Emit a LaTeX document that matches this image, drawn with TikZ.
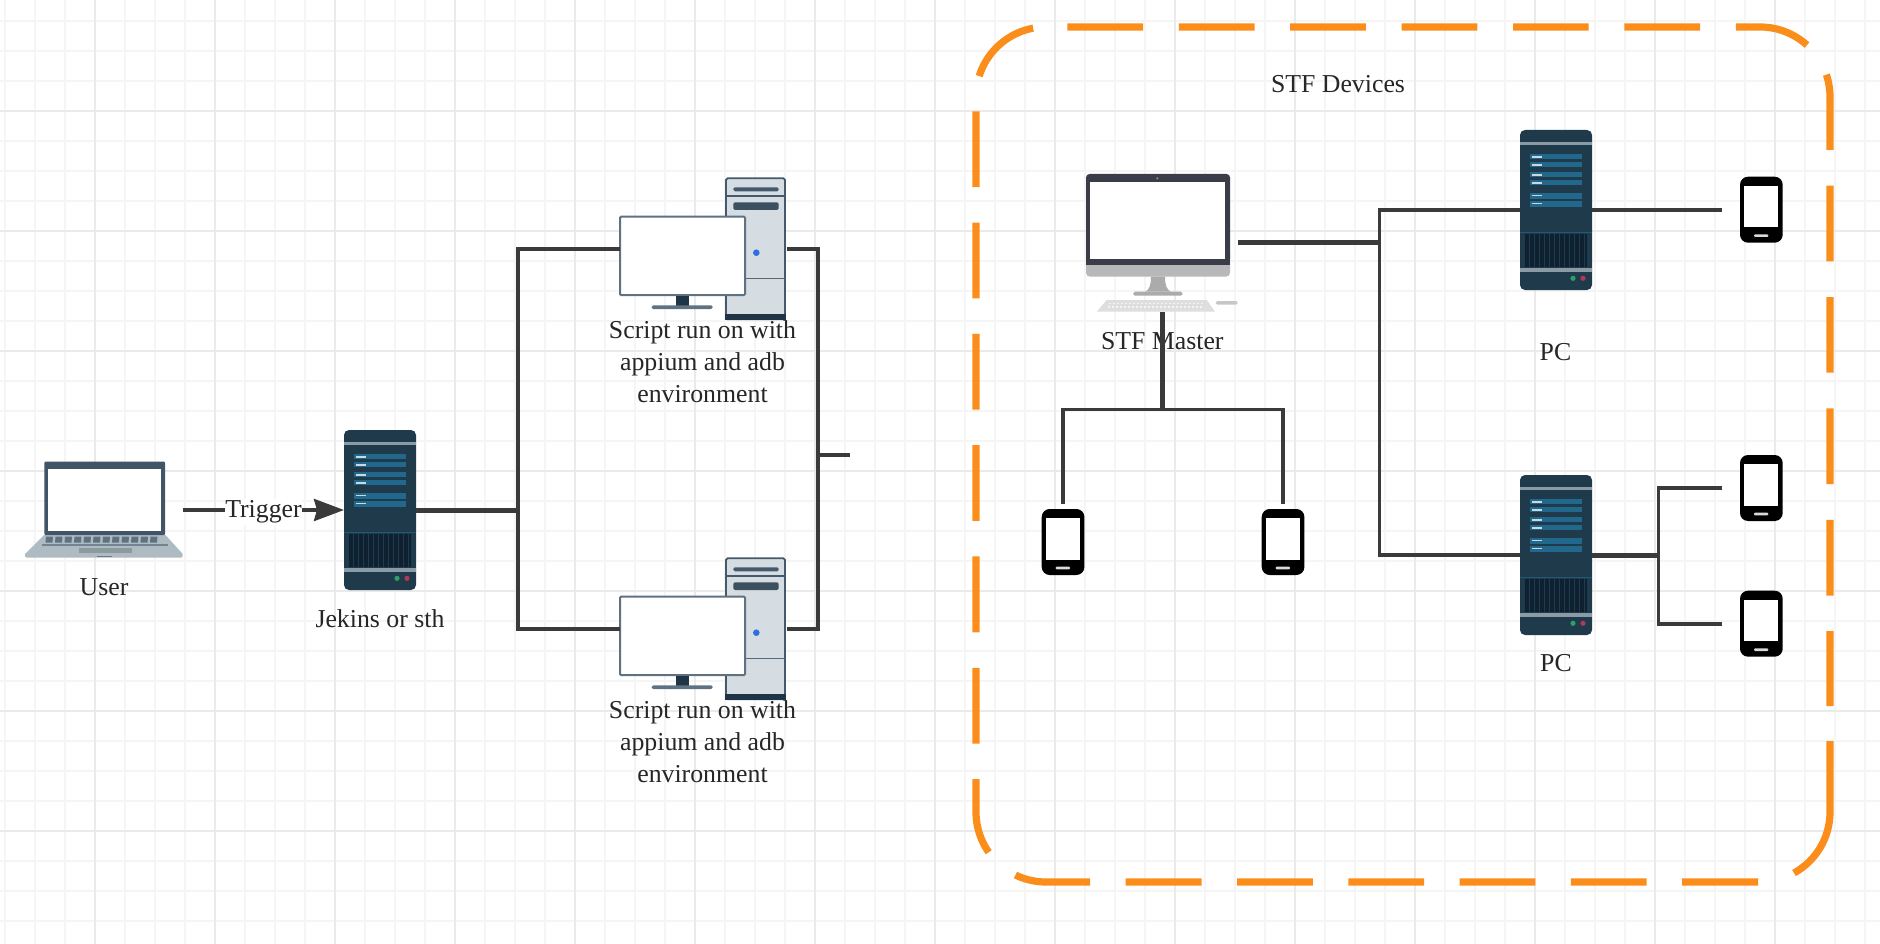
\documentclass[tikz,border=0pt]{standalone}
\usepackage{fontspec}
\setmainfont{Liberation Serif}
\usetikzlibrary{arrows.meta}
\definecolor{gridminor}{HTML}{F5F5F5}
\definecolor{gridmajor}{HTML}{EAEAEA}
\definecolor{conncol}{HTML}{3A3A3A}
\definecolor{dashorange}{HTML}{FB8E1B}
\definecolor{srvbody}{HTML}{1F3A4A}
\definecolor{srvstrip}{HTML}{8A9BA5}
\definecolor{srvrow}{HTML}{22688C}
\definecolor{srvvent}{HTML}{0F2130}
\definecolor{srvventline}{HTML}{1D3C50}
\definecolor{slate}{HTML}{44596B}
\definecolor{txtcol}{HTML}{262626}
\definecolor{HTMLdark}{HTML}{1F3446}
\definecolor{HTMLmac}{HTML}{3A3D48}
\definecolor{towerfill}{HTML}{D5DCE2}
\definecolor{lapbase}{HTML}{AEBBC3}
\definecolor{lappad}{HTML}{8A9A9E}
\definecolor{ledgreen}{HTML}{2E9E6B}
\definecolor{ledred}{HTML}{B0385A}
\definecolor{dotblue}{HTML}{2F6FDE}
\tikzset{
  iconbox/.style={inner sep=0pt,outer sep=0pt,minimum width=#1},
  lab/.style={font=\fontsize{25.8pt}{32pt}\selectfont,text=txtcol,align=center,inner sep=0pt},
  conn/.style={draw=conncol,line width=4pt,line join=miter},
  thinconn/.style={draw=conncol,line width=3.6pt},
  thickconn/.style={draw=conncol,line width=5pt},
  orangeline/.style={draw=dashorange,line width=7.2pt}
}
\newcommand{\srvicon}[2]{%
\begin{scope}[shift={(#1,#2)}]
  \fill[srvbody,rounded corners=5pt] (0,0) rectangle (72,160);
  \fill[srvstrip] (0,12.3) rectangle (72,15);
  \foreach \ya/\yb in {24/29.3,32/37.3,42/47.3,50/55.3,62.7/68.7,70.7/76.7}{
    \fill[srvrow] (10,\ya) rectangle (62,\yb);
    \fill[white!75!srvrow] (11.7,\ya+2) rectangle (21.7,\ya+3.6);
  }
  \fill[srvrow!70!srvbody] (0,102) rectangle (72,102.8);
  \fill[srvvent] (5,104.3) rectangle (66.7,136.7);
  \foreach \xa in {9,14,...,64}{\fill[srvventline] (\xa,104.3) rectangle (\xa+1.2,136.7);}
  \fill[srvstrip] (0,138.3) rectangle (72,142.3);
  \fill[ledgreen] (53,148.3) circle (2.6pt);
  \fill[ledred] (63,148.3) circle (2.6pt);
\end{scope}}
\newcommand{\phoneicon}[2]{%
\begin{scope}[shift={(#1,#2)}]
  \fill[black,rounded corners=8pt] (0,0) rectangle (42.7,66);
  \fill[white] (4.3,9.3) rectangle (38.3,50.7);
  \fill[black!15,rounded corners=1pt] (14,57.7) rectangle (28.3,60.3);
\end{scope}}
\newcommand{\deskicon}[2]{%
\begin{scope}[shift={(#1,#2)}]
  \fill[fill=towerfill,draw=slate,line width=1.8pt,rounded corners=1.5pt] (726,178.3) rectangle (785,319.3);
  \fill[HTMLdark] (725.2,314) rectangle (785.8,320);
  \draw[slate,line width=1.2pt] (726,196) -- (785,196);
  \fill[slate,rounded corners=1.5pt] (733.3,187.3) rectangle (778.7,191.3);
  \fill[slate!90!black,rounded corners=1.5pt] (733.3,202.3) rectangle (778.7,210);
  \fill[dotblue] (756.3,252.7) circle (3.3pt);
  \draw[slate!90!white,line width=1.2pt] (745,278.7) -- (785,278.7);
  \fill[fill=white,draw=slate!85!white,line width=2pt,rounded corners=1pt] (620,216.7) rectangle (745,295);
  \fill[HTMLdark] (676,296) rectangle (689,305.7);
  \fill[slate!85!white,rounded corners=1.5pt] (651.7,305.3) rectangle (712.7,309);
\end{scope}}
\begin{document}
\begin{tikzpicture}[x=1pt,y=-1pt]
\useasboundingbox (0,0) rectangle (1880,944);
\fill[white] (0,0) rectangle (1880,944);
% grid
\foreach \xa in {5,35,...,1865}{\draw[gridminor,line width=2pt] (\xa,0) -- (\xa,944);}
\foreach \ya in {21,51,...,921}{\draw[gridminor,line width=2pt] (0,\ya) -- (1880,\ya);}
\foreach \xa in {95,215,...,1775}{\draw[gridmajor,line width=1.8pt] (\xa,0) -- (\xa,944);}
\foreach \ya in {111,231,...,831}{\draw[gridmajor,line width=1.8pt] (0,\ya) -- (1880,\ya);}

% dashed container
\draw[orangeline,dash pattern=on 75.7pt off 35.7pt]
  (1067.4,27) -- (1760,27) .. controls (1798.66,27) and (1830,58.34) .. (1830,97) -- (1830,706);
\draw[orangeline] (1830,741) -- (1830,812) .. controls (1830,837.4) and (1816.2,860.7) .. (1794,873);
\draw[orangeline,dash pattern=on 75.8pt off 35.5pt]
  (1758,882) -- (1046,882) .. controls (1007.34,882) and (976,850.66) .. (976,812)
  -- (976,97) .. controls (976,58.34) and (1007.34,27) .. (1046,27);

% placeholder nodes for icons
\node[iconbox=158pt,minimum height=96pt] (user) at (104,510) {};
\node[iconbox=72pt,minimum height=160pt] (jen) at (380,510) {};
\node[iconbox=167pt,minimum height=141pt] (deskA) at (703.2,248.8) {};
\node[iconbox=167pt,minimum height=141pt] (deskB) at (703.2,628.8) {};
\node[iconbox=152.3pt,minimum height=138pt] (mac) at (1162.15,243) {};
\node[iconbox=72pt,minimum height=160pt] (pcA) at (1556,210) {};
\node[iconbox=72pt,minimum height=160pt] (pcB) at (1556,555) {};
\node[iconbox=42.7pt,minimum height=66pt] (phoneA) at (1761.35,210) {};
\node[iconbox=42.7pt,minimum height=66pt] (phoneB) at (1761.35,488) {};
\node[iconbox=42.7pt,minimum height=66pt] (phoneC) at (1761.35,623.7) {};
\node[iconbox=42.7pt,minimum height=66pt] (phoneD) at (1063,542) {};
\node[iconbox=42.7pt,minimum height=66pt] (phoneE) at (1283,542) {};
\coordinate (busL) at (517.5,510);
\coordinate (busR) at (818,455);
\coordinate (stub) at (850,455);
\coordinate (trunk) at (1379.3,243);
\coordinate (splitB) at (1658.3,555);
\coordinate (splitM) at (1162.15,409.3);

% laptop
\fill[lapbase] (44,535) -- (165.5,535) -- (182.7,554) -- (182.7,556.5) -- (181,557.7) -- (27,557.7) -- (25,556.5) -- (25,554) -- cycle;
\fill[slate!95!black,rounded corners=1pt] (44.3,461.7) rectangle (165,535);
\fill[white] (47.7,469) rectangle (161,530.7);
\foreach \xa in {46,55.5,...,158}{\fill[slate!85!white] (\xa,536.5) -- (\xa+7,536.5) -- (\xa+6.5,542.5) -- (\xa-0.5,542.5) -- cycle;}
\fill[slate!75!white] (42,543.6) rectangle (168,545.6);
\fill[lappad] (79,548) rectangle (131.7,552.6);
\fill[slate!80!white] (97,556) rectangle (112,557);

% servers, desktops, iMac, phones
\srvicon{344}{430}
\srvicon{1520}{130}
\srvicon{1520}{475}
\deskicon{0}{0}
\deskicon{0}{380}
\fill[fill=black!28,rounded corners=4pt] (1086,250) rectangle (1230,276.7);
\fill[HTMLmac,rounded corners=3.5pt] (1086,174) rectangle (1230,262);
\fill[HTMLmac] (1086,255) rectangle (1230,265);
\fill[white] (1090,181.7) rectangle (1224.7,259.3);
\fill[black!45] (1157.3,178.3) circle (1.2pt);
\fill[black!33] (1151,276.7) -- (1165,276.7) .. controls (1165,286) and (1167,290) .. (1171,291.7) -- (1145,291.7) .. controls (1149,290) and (1151,286) .. (1151,276.7) -- cycle;
\fill[black!33,rounded corners=1.5pt] (1133.3,291.7) rectangle (1182.3,295.7);
\fill[black!13] (1106.7,300) -- (1206.7,300) -- (1215,311.7) -- (1096.7,311.7) -- cycle;
\foreach \xa in {1109,1113,...,1203}{\fill[black!4] (\xa,302.5) rectangle (\xa+2,304);\fill[black!4] (\xa-1.5,306) rectangle (\xa+0.5,307.5);}
\fill[black!22,rounded corners=1.5pt] (1215.7,301.2) rectangle (1237.7,304.6);
\phoneicon{1740}{176.7}
\phoneicon{1740}{455}
\phoneicon{1740}{590.7}
\phoneicon{1041.7}{509}
\phoneicon{1261.7}{509}

% labels
\node[lab] (lblUser) at (104,587) {User};
\node[lab] (lblJen) at (380,619) {Jekins or sth};
\node[lab] (lblDeskA) at (702.5,362) {Script run on with\\appium and adb\\environment};
\node[lab] (lblDeskB) at (702.5,742) {Script run on with\\appium and adb\\environment};
\node[lab] (lblMac) at (1162.3,341) {STF Master};
\node[lab] (lblPcA) at (1555.5,352) {PC};
\node[lab] (lblPcB) at (1556,663) {PC};
\node[lab] (lblDev) at (1338,84.5) {STF Devices};

% connectors
\draw[conn,line width=3.6pt,-{Stealth[length=30pt,width=22pt,inset=3pt]}] (user.east) -- (jen.west)
  node[lab,midway,fill=white,inner xsep=0.5pt,inner ysep=2pt,yshift=-2pt] (lblTrig) {Trigger};
\draw[thickconn] (jen.east) -- (busL);
\draw[conn] (deskA.west) -| (busL) |- (deskB.west);
\draw[conn] (deskA.east) -| (busR) |- (deskB.east);
\draw[conn,line width=4.6pt] (busR) -- (stub);
\draw[thickconn] (mac.east) -- (trunk);
\draw[thinconn] (pcA.west) -| (trunk) |- (pcB.west);
\draw[thinconn] (pcA.east) -- ([xshift=-18.3pt]phoneA.west);
\draw[thickconn] (pcB.east) -- (splitB);
\draw[thinconn] ([xshift=-18.3pt]phoneB.west) -| (splitB) |- ([xshift=-18.3pt]phoneC.west);
\draw[conn,line width=5pt] (mac.south) -- (splitM);
\draw[thinconn] ([yshift=4.7pt]phoneD.north) |- (splitM) -| ([yshift=4.7pt]phoneE.north);
\end{tikzpicture}
\end{document}
